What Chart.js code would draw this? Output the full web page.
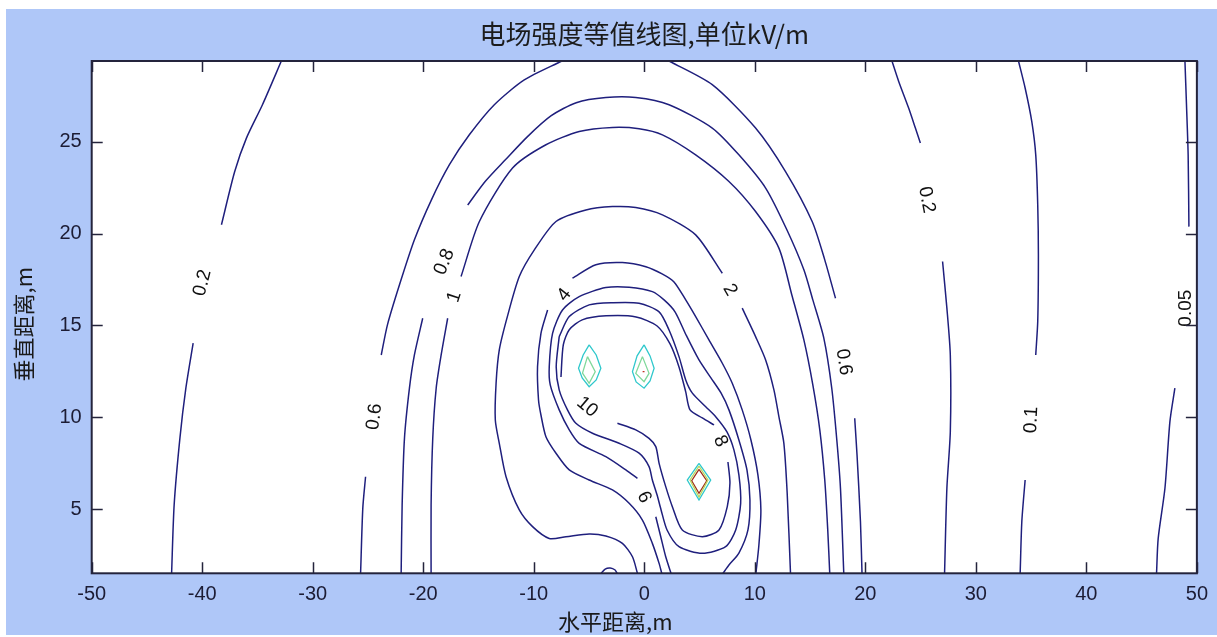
<!DOCTYPE html>
<html>
<head>
<meta charset="utf-8">
<script src="https://cdn.jsdelivr.net/npm/chart.js@4.4.1/dist/chart.umd.min.js"></script>
<style>
html,body{margin:0;padding:0;background:#fff;}
canvas{display:block;}
</style>
</head>
<body>
<canvas id="c" width="1217" height="637"></canvas>
<script>
// ---------- axis ticks ----------
const xTicks = [-50, -40, -30, -20, -10, 0, 10, 20, 30, 40, 50];
const yTicks = [5, 10, 15, 20, 25];

// ---------- contour pieces (x = 水平距离 m, y = 垂直距离 m) ----------
// 0.05 kV/m
const e005Upper = [[48.92,29.4],[49.06,27.02],[49.21,24.29],[49.28,20.38]];
const e005Lower = [[48.01,11.58],[47.56,9.76],[47.11,6.13],[46.50,3.40],[46.35,1.5]];
// 0.1 kV/m
const e01Upper = [[33.86,29.4],[34.46,27.93],[35.06,26.11],[35.42,24.29],[35.60,21.57],[35.66,18.84],[35.60,15.21],[35.42,13.39]];
const e01Lower = [[34.46,6.58],[34.16,4.31],[34.01,1.5]];
// 0.2 kV/m
const e02LeftUpper = [[-32.84,29.4],[-34.55,27.02],[-36.0,25.2],[-37.06,23.38],[-38.26,20.48]];
const e02LeftLower = [[-40.82,14.03],[-41.48,11.58],[-42.02,8.85],[-42.54,5.22],[-42.77,1.5]];
const e02RightUpper = [[22.41,29.4],[23.02,28.29],[23.92,26.84],[24.53,25.75],[24.98,24.93]];
const e02RightLower = [[26.99,18.48],[27.38,15.94],[27.69,13.39],[27.69,9.21],[27.38,6.13],[27.17,1.5]];
// 0.6 kV/m
const e06LeftUpper = [[-7.45,29.4],[-10.86,28.37],[-13.57,27.02],[-15.83,25.38],[-17.63,23.75],[-19.26,21.84],[-20.80,19.66],[-22.15,17.21],[-23.24,15.03],[-23.80,13.39]];
const e06LeftLower = [[-25.22,6.76],[-25.47,5.05],[-25.67,1.5]];
const e06RightUpper = [[2.24,29.4],[6.15,28.11],[10.07,25.75],[12.78,23.38],[15.19,20.66],[16.33,18.57],[17.30,16.48]];
const e06RightLower = [[19.04,9.94],[19.25,7.94],[19.56,4.31],[19.70,1.5]];
// 0.8 kV/m
const e08Upper = [[-15.98,21.56],[-14.38,22.85],[-12.57,24.02],[-10.59,25.27],[-8.42,26.42],[-6.16,27.13],[-3.48,27.41],[-0.77,27.41],[2.24,27.02],[6.15,25.75],[8.56,24.29],[10.98,22.48],[12.90,20.21],[14.44,18.03],[15.25,16.39],[16.24,14.32],[16.96,11.59],[17.42,8.76],[17.75,6.14],[18.05,1.5]];
const e08LeftLower = [[-20.05,15.39],[-20.80,13.39],[-21.25,11.58],[-21.70,8.85],[-21.91,5.22],[-22.0,1.5]];
// 1 kV/m
const e1Upper = [[-16.58,17.66],[-14.92,20.66],[-11.92,23.57],[-8.90,24.84],[-5.89,25.56],[-2.88,25.78],[-0.47,25.71],[1.64,25.38],[4.65,24.29],[7.66,22.84],[10.07,21.20],[12.18,19.21],[13.35,16.66],[14.44,14.21],[15.25,11.76],[15.88,9.31],[16.33,6.58],[16.60,3.86],[16.78,1.5]];
const e1LeftLower = [[-17.79,15.39],[-18.38,13.39],[-18.83,11.58],[-19.14,8.85],[-19.29,5.22],[-19.29,1.5]];
// 2 kV/m
const e2Main = [[7.06,17.84],[4.65,19.93],[1.64,21.02],[-0.77,21.42],[-2.88,21.47],[-5.28,21.29],[-7.99,20.66],[-9.95,19.11],[-11.31,17.66],[-12.39,15.48],[-13.12,13.67],[-13.41,11.85],[-13.48,9.85],[-13.12,8.58],[-12.51,6.76],[-11.31,4.95],[-10.11,4.04],[-8.60,3.40],[-7.09,3.49],[-4.99,3.64],[-3.48,3.53],[-1.98,3.13],[-1.07,2.40],[-0.62,1.5]];
const e2Right = [[8.86,15.94],[10.07,14.39],[10.98,13.12],[11.73,11.49],[12.18,10.03],[12.63,8.58],[12.93,5.86],[13.23,1.5]];
const e2Bump = [[-3.90,1.5],[-3.54,1.73],[-3.09,1.79],[-2.64,1.68],[-2.46,1.5]];
// 4 kV/m
const e4Right = [[-6.50,17.57],[-4.38,18.30],[-1.98,18.42],[0.14,18.20],[1.61,17.81],[2.69,17.37],[3.75,16.39],[4.65,15.48],[5.85,14.21],[7.06,12.94],[7.96,11.85],[8.86,10.40],[9.65,8.76],[10.28,6.86],[10.55,4.95],[10.37,3.04],[10.10,1.5]];
const e4Left = [[-8.75,15.84],[-9.35,14.57],[-9.66,12.75],[-9.57,10.94],[-9.35,10.12],[-8.90,8.94],[-7.99,8.04],[-6.79,7.13],[-4.99,6.58],[-2.88,6.04],[-1.37,5.31],[-0.17,4.40],[0.73,3.13],[1.34,2.04],[1.58,1.5]];
// 6 kV/m
const e6Main = [[-0.62,6.67],[-1.67,7.13],[-3.48,7.85],[-5.89,8.58],[-6.79,9.31],[-7.70,10.40],[-8.51,11.76],[-8.60,12.75],[-8.30,14.57],[-7.40,15.84],[-5.89,16.57],[-3.48,17.06],[-1.37,17.08],[0.73,16.84],[1.79,16.39],[2.78,15.74],[3.78,14.48],[4.95,13.12],[6.03,12.14],[6.94,11.32],[7.66,10.40],[8.56,8.76],[9.29,7.13],[9.56,5.49],[9.38,3.86],[8.56,2.60],[7.66,1.95],[7.12,1.5]];
const e6Lower = [[1.04,4.58],[1.49,3.49],[1.94,2.40],[2.42,1.5]];
// 8 kV/m (closed loop)
const e8Loop = [[-7.70,14.39],[-6.79,15.48],[-4.99,16.12],[-2.88,16.24],[-0.47,16.21],[1.34,15.74],[2.24,14.75],[3.14,13.30],[3.75,12.03],[4.35,11.31],[5.56,10.57],[6.46,10.03],[7.48,9.20],[8.11,8.22],[8.56,6.86],[8.72,5.31],[8.27,3.86],[7.36,2.95],[5.25,2.59],[3.14,2.95],[2.06,3.86],[1.52,4.95],[1.16,5.76],[0.73,6.58],[0.43,7.31],[-0.47,8.04],[-2.28,8.58],[-4.69,9.13],[-6.19,9.67],[-6.95,10.40],[-7.70,11.49],[-7.97,12.74],[-7.70,14.39]];
// 10 kV/m (innermost loop, split by its labels)
const e10Lower = [[-2.43,9.67],[-0.77,9.31],[0.43,8.85],[1.04,8.40],[1.34,7.49],[1.94,6.22],[2.54,5.13],[3.44,3.86],[5.25,3.49],[6.76,3.86],[7.51,5.13],[7.75,6.42],[7.57,7.56]];
const e10Upper = [[6.31,9.58],[5.25,9.96],[4.14,10.40],[3.75,11.38],[3.14,12.74],[2.33,13.99],[1.16,14.97],[-0.74,15.46],[-3.45,15.52],[-5.62,15.30],[-6.79,14.76],[-7.33,13.94],[-7.54,12.19]];
// high-field contours around the three conductors
const peakLeftOuter = [[-4.99,13.94],[-4.35,13.39],[-3.93,12.67],[-4.35,12.03],[-4.99,11.66],[-5.62,12.14],[-5.95,12.67],[-5.53,13.39],[-4.99,13.94]];
const peakLeftInner = [[-5.14,13.30],[-4.44,12.48],[-4.99,11.85],[-5.59,12.40],[-5.14,13.30]];
const peakMidOuter = [[-0.02,13.94],[0.52,13.34],[0.89,12.67],[0.52,11.98],[-0.02,11.58],[-0.74,11.92],[-1.07,12.48],[-0.65,13.34],[-0.02,13.94]];
const peakMidInner = [[-0.17,13.30],[0.43,12.39],[-0.02,11.94],[-0.77,12.39],[-0.17,13.30]];
const peakMidCore = [[-0.15,12.48],[0.02,12.48]];
const peakRightOuter = [[4.95,7.49],[6.01,6.58],[4.95,5.49],[3.89,6.58],[4.95,7.49]];
const peakRightMid = [[4.95,7.34],[5.76,6.58],[4.95,5.65],[4.14,6.58],[4.95,7.34]];
const peakRightInner = [[4.95,7.16],[5.65,6.54],[4.95,5.86],[4.29,6.54],[4.95,7.16]];

// ---------- inline contour labels ----------
const labelText  = ['0.2', '0.6', '0.8', '1', '4', '10', '6', '8', '2', '0.6', '0.2', '0.1', '0.05'];
const labelX     = [-39.98, -24.41, -18.09, -17.18, -7.24, -5.17, -0.02, 6.9, 7.75, 18.05, 25.55, 35.03, 49.03];
const labelY     = [17.32, 10.03, 18.46, 16.55, 16.66, 10.56, 5.65, 8.7, 16.93, 13.01, 21.84, 9.85, 15.94];
const labelAngle = [-76, -83, -68, -72, -52, 40, 64, 66, 60, 81, 79, -87, -90];

const NAVY = '#1f1f7d';
const pieces = [
  ['0.05', e005Upper, NAVY], ['0.05', e005Lower, NAVY],
  ['0.1', e01Upper, NAVY], ['0.1', e01Lower, NAVY],
  ['0.2', e02LeftUpper, NAVY], ['0.2', e02LeftLower, NAVY], ['0.2', e02RightUpper, NAVY], ['0.2', e02RightLower, NAVY],
  ['0.6', e06LeftUpper, NAVY], ['0.6', e06LeftLower, NAVY], ['0.6', e06RightUpper, NAVY], ['0.6', e06RightLower, NAVY],
  ['0.8', e08Upper, NAVY], ['0.8', e08LeftLower, NAVY],
  ['1', e1Upper, NAVY], ['1', e1LeftLower, NAVY],
  ['2', e2Main, NAVY], ['2', e2Right, NAVY], ['2', e2Bump, NAVY],
  ['4', e4Right, NAVY], ['4', e4Left, NAVY],
  ['6', e6Main, NAVY], ['6', e6Lower, NAVY],
  ['8', e8Loop, NAVY],
  ['10', e10Lower, NAVY], ['10', e10Upper, NAVY],
  ['20', peakLeftOuter, '#2fc8cc'], ['20', peakMidOuter, '#2fc8cc'], ['20', peakRightOuter, '#2fc8cc'],
  ['40', peakLeftInner, '#7fd89a'], ['40', peakMidInner, '#7fd89a'], ['40', peakRightMid, '#b8d860'],
  ['80', peakRightInner, '#a0301c'], ['80', peakMidCore, '#c03020']
];

const datasets = pieces.map(([lvl, pts, col]) => ({
  label: lvl + ' kV/m',
  data: pts.map(([x, y]) => ({x, y})),
  showLine: true,
  borderColor: col,
  backgroundColor: col,
  borderWidth: col === NAVY ? 1.5 : 1.3,
  pointRadius: 0,
  pointHoverRadius: 0,
  tension: col === NAVY ? 0.25 : 0,
  fill: false
}));

const framePlugin = {
  id: 'frame',
  beforeDraw(chart) {
    const {ctx, chartArea: a} = chart;
    ctx.save();
    ctx.fillStyle = '#ffffff';
    ctx.fillRect(0, 0, chart.width, chart.height);
    ctx.fillStyle = '#afc7f8';
    ctx.fillRect(6, 9, chart.width - 6, chart.height - 11);
    ctx.fillStyle = '#ffffff';
    ctx.fillRect(a.left, a.top, a.right - a.left, a.bottom - a.top);
    ctx.restore();
  },
  afterDatasetsDraw(chart) {
    const {ctx, scales: {x, y}} = chart;
    ctx.save();
    ctx.fillStyle = '#111111';
    ctx.font = '19px "Liberation Sans", Arial, sans-serif';
    ctx.textAlign = 'center';
    ctx.textBaseline = 'middle';
    labelText.forEach((t, i) => {
      ctx.save();
      ctx.translate(x.getPixelForValue(labelX[i]), y.getPixelForValue(labelY[i]));
      ctx.rotate(labelAngle[i] * Math.PI / 180);
      ctx.fillText(t, 0, 0);
      ctx.restore();
    });
    ctx.restore();
  },
  afterDraw(chart) {
    const {ctx, chartArea: a, scales: {x, y}} = chart;
    ctx.save();
    ctx.strokeStyle = '#24243c';
    ctx.lineWidth = 1.5;
    const tl = 11;
    ctx.beginPath();
    xTicks.forEach(v => {
      const px = Math.round(x.getPixelForValue(v)) + 0.5;
      ctx.moveTo(px, a.bottom); ctx.lineTo(px, a.bottom - tl);
      ctx.moveTo(px, a.top); ctx.lineTo(px, a.top + tl);
    });
    yTicks.forEach(v => {
      const py = Math.round(y.getPixelForValue(v)) + 0.5;
      ctx.moveTo(a.left, py); ctx.lineTo(a.left + tl, py);
      ctx.moveTo(a.right, py); ctx.lineTo(a.right - tl, py);
    });
    ctx.stroke();
    ctx.lineWidth = 2;
    ctx.strokeRect(a.left, a.top, a.right - a.left, a.bottom - a.top);
    // axis titles
    ctx.fillStyle = '#1a1a1a';
    ctx.font = '22px "Noto Sans CJK SC", sans-serif';
    ctx.textAlign = 'center';
    ctx.textBaseline = 'middle';
    ctx.fillText('水平距离,m', (a.left + a.right) / 2 - 29, a.bottom + 48);
    ctx.save();
    ctx.translate(24, (a.top + a.bottom) / 2 + 7);
    ctx.rotate(-Math.PI / 2);
    ctx.fillText('垂直距离,m', 0, 0);
    ctx.restore();
    ctx.restore();
  }
};

Chart.defaults.font.family = '"Liberation Sans", Arial, sans-serif';

new Chart(document.getElementById('c'), {
  type: 'scatter',
  data: {datasets},
  options: {
    responsive: false,
    animation: false,
    events: [],
    layout: {padding: {left: 0, right: 0, top: 0, bottom: 0}},
    plugins: {
      legend: {display: false},
      tooltip: {enabled: false},
      title: {
        display: true,
        fullSize: false,
        text: '电场强度等值线图,单位kV/m',
        color: '#1c1c1c',
        font: {family: '"Noto Sans CJK SC", sans-serif', size: 26, weight: 'normal'},
        padding: {top: 18.4, bottom: 11.4}
      }
    },
    scales: {
      x: {
        type: 'linear', position: 'bottom', min: -50, max: 50,
        afterBuildTicks: s => { s.ticks = xTicks.map(v => ({value: v})); },
        afterFit: s => { s.height = 63.7; },
        grid: {display: false, drawTicks: false},
        border: {display: false},
        ticks: {padding: 9, color: '#1c1c34', font: {size: 20}, maxRotation: 0, autoSkip: false}
      },
      y: {
        type: 'linear', position: 'left', min: 1.5, max: 29.4,
        afterBuildTicks: s => { s.ticks = yTicks.map(v => ({value: v})); },
        afterFit: s => { s.width = 91.7; },
        grid: {display: false, drawTicks: false},
        border: {display: false},
        ticks: {padding: 10, color: '#1c1c34', font: {size: 20}, autoSkip: false}
      },
      yR: {
        type: 'linear', position: 'right', min: 0, max: 1, display: true,
        afterFit: s => { s.width = 18; },
        grid: {display: false, drawTicks: false},
        border: {display: false},
        ticks: {display: false}
      }
    }
  },
  plugins: [framePlugin]
});
</script>
</body>
</html>
